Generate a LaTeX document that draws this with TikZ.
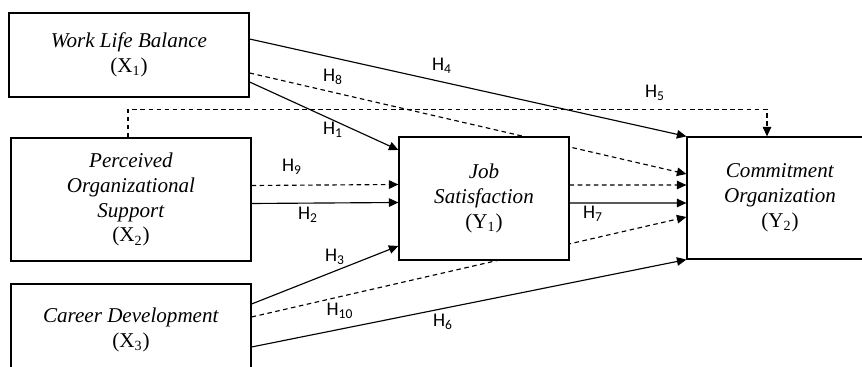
\documentclass[tikz,border=0pt]{standalone}
\usepackage{fontspec}
\setmainfont{Liberation Serif}
\newfontfamily\hfont{Carlito}
\usetikzlibrary{arrows.meta,backgrounds}
\begin{document}
\begin{tikzpicture}[x=0.02cm,y=-0.02cm,
  box/.style={draw,fill=white,line width=0.7pt,align=center,inner sep=0pt,font=\fontsize{12}{14.2}\selectfont},
  arr/.style={line width=0.65pt,-{Triangle[length=1.9mm,width=1.7mm]}},
  darr/.style={arr,dash pattern=on 2.6pt off 2pt},
  hyp/.style={inner sep=0pt,font=\hfont\fontsize{11}{12}\selectfont}]
\useasboundingbox (0,0) rectangle (862,367);
% constructs
\node[box,minimum width=4.8cm,minimum height=1.68cm] (x1) at (129,55) {\textit{Work Life Balance}\\(X\textsubscript{1})};
\node[box,minimum width=4.8cm,minimum height=2.46cm] (x2) at (131,199.5) {\textit{Perceived}\\\textit{Organizational}\\\textit{Support}\\(X\textsubscript{2})};
\node[box,minimum width=4.8cm,minimum height=1.84cm] (x3) at (131,330) {\textit{Career Development}\\(X\textsubscript{3})};
\node[box,minimum width=3.4cm,minimum height=2.46cm] (y1) at (484,198.5) {\textit{Job}\\\textit{Satisfaction}\\(Y\textsubscript{1})};
\node[box,minimum width=3.72cm,minimum height=2.44cm] (y2) at (780,198) {\textit{Commitment}\\\textit{Organization}\\(Y\textsubscript{2})};
% paths behind the mediator
\begin{scope}[on background layer]
\draw[darr] ([yshift=-0.36cm]x1.east) -- ([yshift=0.48cm]y2.west);
\draw[darr] ([yshift=0.26cm]x3.east) -- ([yshift=-0.38cm]y2.west);
\end{scope}
% direct paths
\draw[arr] ([yshift=0.32cm]x1.east) -- (y2.north west);
\draw[arr] ([yshift=-0.54cm]x1.east) -- ([yshift=0.97cm]y1.west);
\draw[darr] ([yshift=0.28cm]x2.east) -- ([yshift=0.28cm]y1.west);
\draw[arr] ([yshift=-0.08cm]x2.east) -- ([yshift=-0.08cm]y1.west);
\draw[arr] ([yshift=0.52cm]x3.east) -- ([yshift=-0.95cm]y1.west);
\draw[arr] ([yshift=-0.34cm]x3.east) -- (y2.south west);
\draw[darr] ([yshift=0.27cm]y1.east) -- ([yshift=0.26cm]y2.west);
\draw[arr] ([yshift=-0.09cm]y1.east) -- ([yshift=-0.1cm]y2.west);
\draw[darr] ([xshift=-0.06cm]x2.north) |- ([xshift=-0.26cm,yshift=0.54cm]y2.north) -- ([xshift=-0.26cm]y2.north);
% labels
\node[hyp] (h1) at (333,130) {H\textsubscript{1}};
\node[hyp] (h2) at (308,215) {H\textsubscript{2}};
\node[hyp] (h3) at (335,257) {H\textsubscript{3}};
\node[hyp] (h4) at (442,66) {H\textsubscript{4}};
\node[hyp] (h5) at (655,93) {H\textsubscript{5}};
\node[hyp] (h6) at (443,322) {H\textsubscript{6}};
\node[hyp] (h7) at (593,214) {H\textsubscript{7}};
\node[hyp] (h8) at (333,77) {H\textsubscript{8}};
\node[hyp] (h9) at (292,167) {H\textsubscript{9}};
\node[hyp] (h10) at (340,311) {H\textsubscript{10}};
\end{tikzpicture}
\end{document}
